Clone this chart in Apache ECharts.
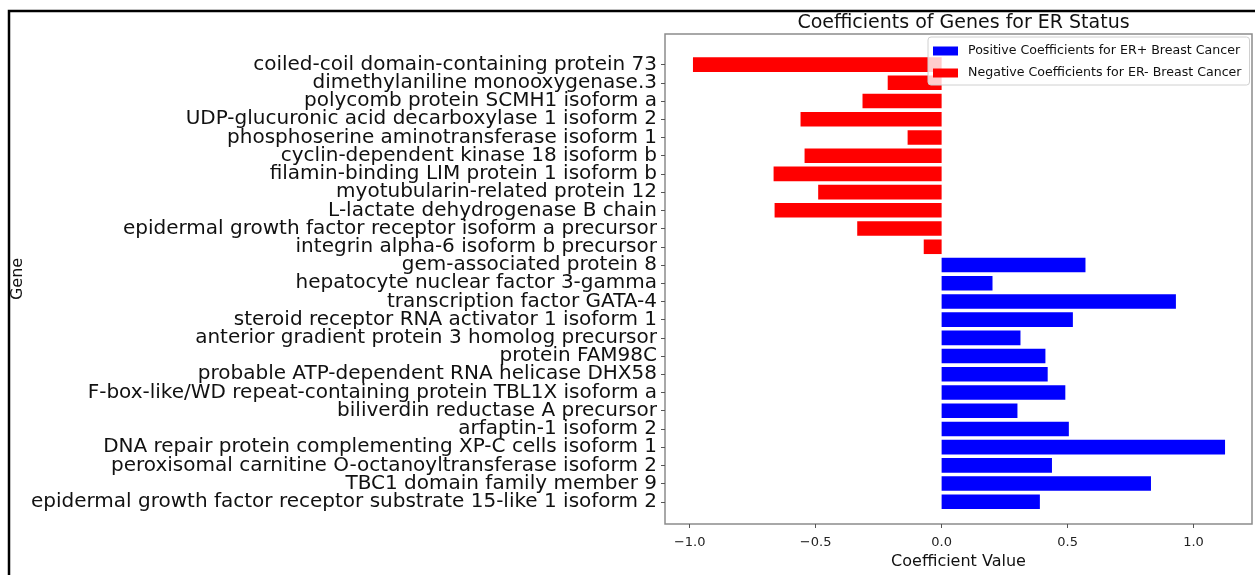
<!DOCTYPE html>
<html>
<head>
<meta charset="utf-8">
<script src="https://cdn.jsdelivr.net/npm/echarts@6/dist/echarts.min.js"></script>
<style>
html,body{margin:0;padding:0;background:#fff;}
#chart{width:1257px;height:575px;}
</style>
</head>
<body>
<div id="chart"></div>
<script>
const categories = [
  "coiled-coil domain-containing protein 73",
  "dimethylaniline monooxygenase.3",
  "polycomb protein SCMH1 isoform a",
  "UDP-glucuronic acid decarboxylase 1 isoform 2",
  "phosphoserine aminotransferase isoform 1",
  "cyclin-dependent kinase 18 isoform b",
  "filamin-binding LIM protein 1 isoform b",
  "myotubularin-related protein 12",
  "L-lactate dehydrogenase B chain",
  "epidermal growth factor receptor isoform a precursor",
  "integrin alpha-6 isoform b precursor",
  "gem-associated protein 8",
  "hepatocyte nuclear factor 3-gamma",
  "transcription factor GATA-4",
  "steroid receptor RNA activator 1 isoform 1",
  "anterior gradient protein 3 homolog precursor",
  "protein FAM98C",
  "probable ATP-dependent RNA helicase DHX58",
  "F-box-like/WD repeat-containing protein TBL1X isoform a",
  "biliverdin reductase A precursor",
  "arfaptin-1 isoform 2",
  "DNA repair protein complementing XP-C cells isoform 1",
  "peroxisomal carnitine O-octanoyltransferase isoform 2",
  "TBC1 domain family member 9",
  "epidermal growth factor receptor substrate 15-like 1 isoform 2"
];
const negativeValues = [-0.987, -0.214, -0.314, -0.560, -0.135, -0.544, -0.667, -0.490, -0.663, -0.335, -0.071,
  '-', '-', '-', '-', '-', '-', '-', '-', '-', '-', '-', '-', '-', '-'];
const positiveValues = ['-', '-', '-', '-', '-', '-', '-', '-', '-', '-', '-',
  0.571, 0.202, 0.930, 0.521, 0.313, 0.412, 0.421, 0.491, 0.301, 0.505, 1.125, 0.438, 0.831, 0.390];
const xTicks = [-1.0, -0.5, 0.0, 0.5, 1.0];
const seriesNames = ["Positive Coefficients for ER+ Breast Cancer", "Negative Coefficients for ER- Breast Cancer"];

const FONT = "DejaVu Sans";
const xMin = -1.098, xMax = 1.232;
const fmt = v => (v < 0 ? '\u2212' + Math.abs(v).toFixed(1) : v.toFixed(1));

const chart = echarts.init(document.getElementById('chart'), null, {renderer: 'canvas'});
chart.setOption({
  animation: false,
  backgroundColor: '#fff',
  textStyle: {fontFamily: FONT},
  title: {
    text: 'Coefficients of Genes for ER Status',
    left: 958.5, textAlign: 'center', top: 9,
    textStyle: {fontFamily: FONT, fontSize: 19, fontWeight: 'normal', color: '#111'}
  },
  legend: {
    data: seriesNames,
    orient: 'vertical',
    left: 928, top: 37,
    itemWidth: 25, itemHeight: 9, itemGap: 8,
    padding: [7, 8, 5, 5],
    backgroundColor: 'rgba(255,255,255,0.8)',
    borderColor: '#d0d0d0', borderWidth: 1, borderRadius: 3,
    icon: 'rect',
    textStyle: {fontFamily: FONT, fontSize: 12.6, lineHeight: 14, color: '#111', padding: [0, 0, 0, 5]}
  },
  graphic: [
    {type: 'polyline', silent: true, shape: {points: [[9, 600], [9, 11], [1255, 11]]},
     style: {stroke: '#000', lineWidth: 2.5, fill: null}}
  ],
  grid: [
    {left: 665, top: 34, width: 587, height: 497, show: true, borderColor: '#8c8c8c', borderWidth: 1.5, backgroundColor: 'transparent'},
    {left: 665, top: 55.5, width: 587, height: 455.4}
  ],
  xAxis: [
    {gridIndex: 0, type: 'value', min: xMin, max: xMax,
     axisLine: {show: false},
     axisTick: {show: true, length: 4, customValues: xTicks, lineStyle: {color: '#555'}},
     axisLabel: {customValues: xTicks, formatter: fmt, margin: 12, fontFamily: FONT, fontSize: 13, color: '#222'},
     splitLine: {show: false},
     name: 'Coefficient Value', nameLocation: 'middle', nameGap: 30,
     nameTextStyle: {fontFamily: FONT, fontSize: 16, color: '#111'}},
    {gridIndex: 1, type: 'value', min: xMin, max: xMax, show: false, splitLine: {show: false}}
  ],
  yAxis: [
    {gridIndex: 0, type: 'value', min: 0, max: 1,
     axisLine: {show: false}, axisTick: {show: false}, axisLabel: {show: false}, splitLine: {show: false},
     name: 'Gene', nameLocation: 'middle', nameRotate: 90, nameGap: 639,
     nameTextStyle: {fontFamily: FONT, fontSize: 16, color: '#111'}},
    {gridIndex: 1, type: 'category', data: categories, inverse: true,
     axisLine: {show: false, onZero: false},
     axisTick: {show: true, alignWithLabel: true, interval: 0, length: 4, lineStyle: {color: '#555'}},
     axisLabel: {interval: 0, margin: 8, fontFamily: FONT, fontSize: 20, color: '#111'},
     splitLine: {show: false}}
  ],
  series: [
    {name: seriesNames[0], type: 'bar', xAxisIndex: 1, yAxisIndex: 1, stack: 'all',
     data: positiveValues, barCategoryGap: '20%', itemStyle: {color: '#0000ff'}},
    {name: seriesNames[1], type: 'bar', xAxisIndex: 1, yAxisIndex: 1, stack: 'all',
     data: negativeValues, barCategoryGap: '20%', itemStyle: {color: '#ff0000'}}
  ]
});
</script>
</body>
</html>
